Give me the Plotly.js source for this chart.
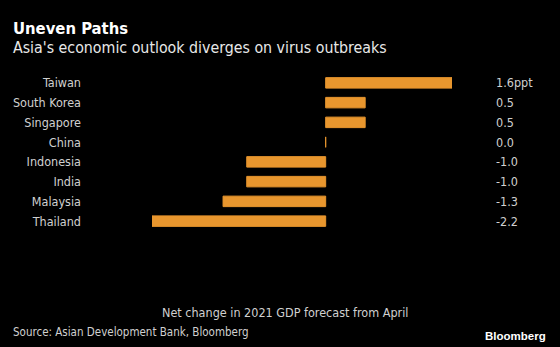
<!DOCTYPE html>
<html><head><meta charset="utf-8">
<script src="https://cdn.plot.ly/plotly-3.0.1.min.js"></script>
<style>html,body{margin:0;padding:0;background:#000;}#chart{width:560px;height:347px;}</style>
</head><body><div id="chart"></div>
<script>
const countries = ["Taiwan","South Korea","Singapore","China","Indonesia","India","Malaysia","Thailand"];
const changes = [1.6, 0.5, 0.5, 0.0, -1.0, -1.0, -1.3, -2.2];
const valueLabels = ["1.6ppt","0.5","0.5","0.0","-1.0","-1.0","-1.3","-2.2"];
const titleText = "Uneven Paths";
const subtitleText = "Asia's economic outlook diverges on virus outbreaks";
const axisTitleText = "Net change in 2021 GDP forecast from April";
const sourceText = "Source: Asian Development Bank, Bloomberg";

const FONT = "'DejaVu Sans Condensed', 'DejaVu Sans', sans-serif";
const W = 560, H = 347;
const M = {l:152, r:108, t:73, b:116};
const plotW = W - M.l - M.r, plotH = H - M.t - M.b;
const px2x = px => (px - M.l) / plotW;
const px2y = py => (H - M.b - py) / plotH;

const trace = {
  type: 'bar', orientation: 'h',
  x: changes, y: countries,
  marker: {color: '#E8962E', line: {color: '#E8962E', width: 1}},
  width: 0.53, hoverinfo: 'skip'
};

const annotations = [
  {text: '<b>' + titleText + '</b>', x: px2x(11), y: px2y(28), xanchor: 'left', yanchor: 'middle', font: {size: 16.5, color: '#ffffff', family: FONT}},
  {text: subtitleText, x: px2x(11), y: px2y(47), xanchor: 'left', yanchor: 'middle', font: {size: 15.8, color: '#e8e8e8', family: FONT}},
  {text: axisTitleText, x: px2x(285), y: px2y(312), xanchor: 'center', yanchor: 'middle', font: {size: 12.5, color: '#d0d0d0', family: FONT}},
  {text: sourceText, x: px2x(11), y: px2y(332), xanchor: 'left', yanchor: 'middle', font: {size: 11.5, color: '#d0d0d0', family: FONT}},
  {text: '<b>Bloomberg</b>', x: px2x(548), y: px2y(336), xanchor: 'right', yanchor: 'middle', font: {size: 11.5, color: '#ffffff', family: "'Liberation Sans', Arial, sans-serif"}}
].map(a => Object.assign({xref: 'paper', yref: 'paper', showarrow: false}, a));

countries.forEach((c, i) => {
  annotations.push({
    xref: 'paper', yref: 'y', x: px2x(494), y: c, text: valueLabels[i],
    xanchor: 'left', yanchor: 'middle', showarrow: false,
    font: {size: 12.5, color: '#d0d0d0', family: FONT}
  });
});

const layout = {
  width: W, height: H,
  margin: M,
  paper_bgcolor: '#000000', plot_bgcolor: '#000000',
  showlegend: false,
  xaxis: {range: [-2.2, 1.6], showgrid: false, zeroline: false, showticklabels: false, ticks: '', fixedrange: true},
  yaxis: {type: 'category', autorange: 'reversed', showgrid: false, zeroline: false, ticks: '',
          ticklabelstandoff: 70, tickfont: {size: 12.5, color: '#d0d0d0', family: FONT}},
  annotations: annotations
};

Plotly.newPlot('chart', [trace], layout, {displayModeBar: false, staticPlot: true});
</script></body></html>
